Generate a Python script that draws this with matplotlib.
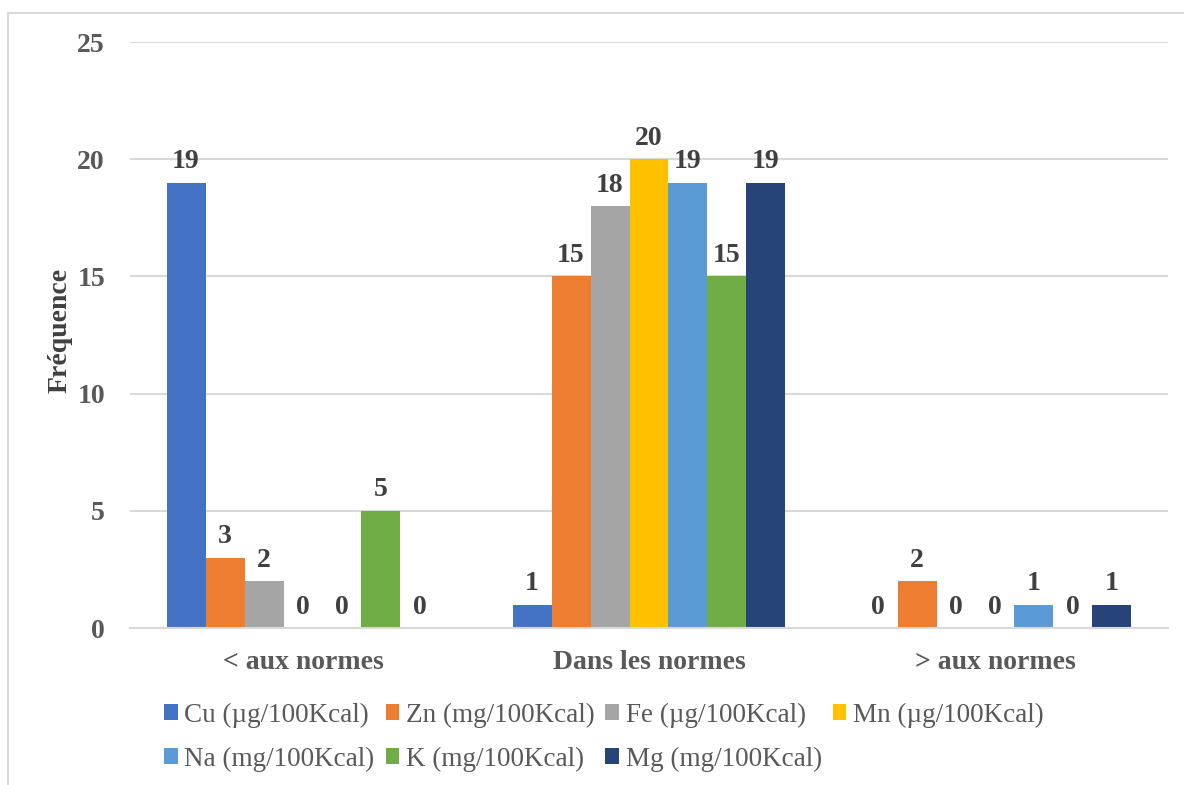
import matplotlib
matplotlib.use("Agg")
import matplotlib.pyplot as plt
from matplotlib.patches import Patch
from matplotlib.lines import Line2D
import numpy as np

categories = ["< aux normes", "Dans les normes", "> aux normes"]
series_names = ["Cu (µg/100Kcal)", "Zn (mg/100Kcal)", "Fe (µg/100Kcal)",
                "Mn (µg/100Kcal)", "Na (mg/100Kcal)", "K (mg/100Kcal)",
                "Mg (mg/100Kcal)"]
cu = [19, 1, 0]
zn = [3, 15, 2]
fe = [2, 18, 0]
mn = [0, 20, 0]
na = [0, 19, 1]
k = [5, 15, 0]
mg = [0, 19, 1]
series_values = [cu, zn, fe, mn, na, k, mg]
colors = ["#4472C4", "#ED7D31", "#A5A5A5", "#FFC000", "#5B9BD5", "#70AD47", "#264478"]
y_ticks = [0, 5, 10, 15, 20, 25]

plt.rcParams['font.family'] = ['Liberation Serif', 'DejaVu Serif']
text_gray = "#595959"
label_gray = "#404040"
fs = 20

fig = plt.figure(figsize=(11.84, 7.85), dpi=100)
ax = fig.add_axes([130 / 1184, 1 - 628 / 785, 1038 / 1184, 586 / 785])

x = np.arange(len(categories))
bw = 0.1127
for i, (name, vals, col) in enumerate(zip(series_names, series_values, colors)):
    pos = x + (i - 3) * bw
    ax.bar(pos, vals, width=bw, color=col, label=name, zorder=3)
    for p, v in zip(pos, vals):
        ax.annotate(str(v), (p, v), xytext=(0, 6), textcoords="offset points",
                    ha="center", va="bottom", fontsize=fs, fontweight="bold",
                    color=label_gray, zorder=4)

ax.set_xlim(-0.5, 2.5)
ax.set_ylim(0, 25)
ax.set_yticks(y_ticks)
ax.set_yticklabels([str(t) for t in y_ticks])
ax.set_xticks(x)
ax.set_xticklabels(categories)
ax.yaxis.grid(True, color="#D9D9D9", linewidth=1.5, zorder=0)
ax.set_axisbelow(True)
for s in ["top", "right", "left"]:
    ax.spines[s].set_visible(False)
ax.spines["bottom"].set_color("#D9D9D9")
ax.spines["bottom"].set_linewidth(1.5)
ax.spines["bottom"].set_zorder(5)
ax.tick_params(axis="y", length=0, pad=18, labelsize=fs, labelcolor=text_gray)
ax.tick_params(axis="x", length=0, pad=16, labelsize=fs, labelcolor=text_gray)
for lbl in ax.get_yticklabels() + ax.get_xticklabels():
    lbl.set_fontweight("bold")

fig.text(60 / 1184, 1 - 330 / 785, "Fréquence", rotation=90, ha="center", va="center",
         fontsize=fs, fontweight="bold", color=label_gray)

# row-major legend ordering: 4 columns, 2 rows
order = [0, 4, 1, 5, 2, 6, 3]
leg = fig.legend([Patch(facecolor=colors[i]) for i in order],
                 [series_names[i] for i in order],
                 ncol=4, loc="center", bbox_to_anchor=(604 / 1184, 1 - 737 / 785),
                 frameon=False, fontsize=19.5, handlelength=0.5, handleheight=0.5,
                 handletextpad=0.25, columnspacing=0.4, labelspacing=0.7,
                 borderpad=0)
for t in leg.get_texts():
    t.set_color(text_gray)

# chart area border (left and top)
fig.add_artist(Line2D([8 / 1184, 8 / 1184], [0, 1 - 13 / 785], transform=fig.transFigure,
                      color="#D9D9D9", linewidth=1.5))
fig.add_artist(Line2D([8 / 1184, 1], [1 - 13 / 785, 1 - 13 / 785], transform=fig.transFigure,
                      color="#D9D9D9", linewidth=1.5))

fig.savefig("out.png", dpi=100)
